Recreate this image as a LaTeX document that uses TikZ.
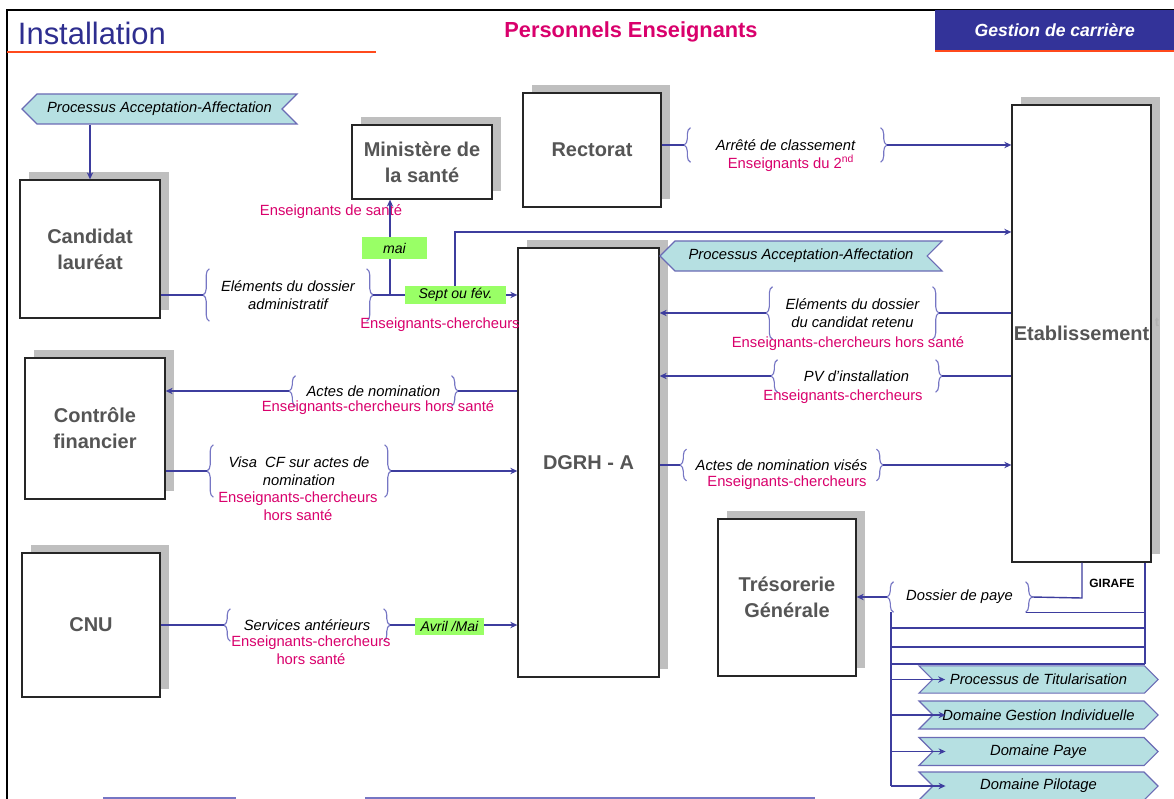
\documentclass[tikz,border=0pt]{standalone}
\usepackage{fontspec}
\setmainfont{Liberation Sans}
\usepackage{xcolor}
\usepackage{tikz}
\usetikzlibrary{arrows.meta,shapes.symbols,shadows,decorations.pathreplacing}
\definecolor{lnblue}{HTML}{3D3D9E}
\definecolor{brcblue}{HTML}{7676C4}
\definecolor{pink}{HTML}{D9006C}
\definecolor{taggreen}{HTML}{99FF66}
\definecolor{flagfill}{HTML}{B6E0E2}
\definecolor{flagdraw}{HTML}{6B6BB5}
\definecolor{titleblue}{HTML}{2E2E8F}
\definecolor{hdrblue}{HTML}{333399}
\definecolor{redline}{HTML}{FF4A1C}
\definecolor{unitgrey}{HTML}{555555}

\newcommand\bracepair[1]{%
  \draw[brc] ([xshift=4.5pt]#1.south west) -- ([xshift=4.5pt]#1.north west);
  \draw[brc] ([xshift=-4.5pt]#1.north east) -- ([xshift=-4.5pt]#1.south east);}

\begin{document}
\begin{tikzpicture}[x=0.025cm, y=-0.025cm,
  unit/.style={draw=black!85, line width=0.9pt, fill=white, text=unitgrey,
    inner xsep=0.5pt, align=center, font=\fontsize{14.2}{18.5}\selectfont\bfseries,
    general shadow={fill=black!25, shadow xshift=6.4pt, shadow yshift=5.7pt}},
  brk/.style={inner sep=0pt, outer xsep=4.5pt, align=center,
    font=\fontsize{10.5}{13}\selectfont\itshape},
  brc/.style={draw=brcblue, line width=0.8pt, decorate,
    decoration={brace, amplitude=4.5pt}},
  who/.style={text=pink, align=center, inner sep=0pt,
    font=\fontsize{10.5}{13}\selectfont},
  tag/.style={fill=taggreen, inner sep=0pt, font=\fontsize{10}{12}\selectfont\itshape},
  flag/.style={shape=signal, draw=flagdraw, fill=flagfill, line width=0.8pt,
    inner sep=0pt, minimum height=0.75cm, font=\fontsize{10.5}{12}\selectfont\itshape},
  ln/.style={draw=lnblue, line width=1pt},
  arr/.style={ln, -{Stealth[length=5pt, width=4.5pt]}}
]
  \useasboundingbox[fill=white] (0,0) rectangle (1174,799);

  % header
  \draw[line width=2pt] (7,799) |- (1174,10);
  \node[anchor=west, text=titleblue, font=\fontsize{22}{22}\selectfont] (ttl) at (13,33) {Installation};
  \draw[redline, line width=1.1pt] (7,52) -- (376,52);
  \node[text=pink, font=\fontsize{15.5}{15.5}\selectfont\bfseries] (sub) at (631,32) {Personnels Enseignants};
  \node[fill=hdrblue, anchor=north west, minimum width=5.975cm, minimum height=1cm,
    text=white, font=\fontsize{12.5}{12.5}\selectfont\bfseries\itshape] (hdr) at (935,10) {Gestion de carrière};
  \draw[redline, line width=1.4pt] (935,51) -- (1174,51);

  % actors
  \node[unit, minimum width=3.5cm,   minimum height=3.45cm]   (cand)  at (90,249)    {Candidat\\lauréat};
  \node[unit, minimum width=3.5cm,   minimum height=1.85cm]   (mins)  at (422,162)   {Ministère de\\la santé};
  \node[unit, minimum width=3.45cm,  minimum height=2.85cm]   (rect)  at (592,150)   {Rectorat};
  \node[unit, minimum width=3.475cm, minimum height=11.425cm] (etab)  at (1081.5,333.5) {Etablissement};
  \node[unit, minimum width=3.525cm, minimum height=10.725cm] (dgrh)  at (588.5,462.5)  {DGRH - A};
  \node[unit, minimum width=3.5cm,   minimum height=3.525cm]  (ctrl)  at (95,428.5)  {Contrôle\\financier};
  \node[unit, minimum width=3.45cm,  minimum height=3.6cm]    (cnu)   at (91,625)    {CNU};
  \node[unit, minimum width=3.45cm,  minimum height=3.925cm]  (treso) at (787,597.5) {Trésorerie\\Générale};
  \node[text=black!30, font=\fontsize{9}{9}\selectfont\bfseries] (tt) at (1157,322) {t};

  % processes
  \node[flag, signal to=west, signal from=east, minimum width=6.875cm] (pa1) at (159.5,109) {Processus Acceptation-Affectation};
  \node[flag, signal to=west, signal from=east, minimum width=7.05cm]  (pa2) at (801,256)   {Processus Acceptation-Affectation};
  \node[flag, signal to=east, signal from=west, minimum width=5.975cm, minimum height=0.68cm] (pt1) at (1038.5,679.5) {Processus de Titularisation};
  \node[flag, signal to=east, signal from=west, minimum width=5.975cm, minimum height=0.7cm]  (pt2) at (1038.5,715)   {Domaine Gestion Individuelle};
  \node[flag, signal to=east, signal from=west, minimum width=5.975cm, minimum height=0.7cm]  (pt3) at (1038.5,751.5) {Domaine Paye};
  \node[flag, signal to=east, signal from=west, minimum width=5.975cm, minimum height=0.7cm]  (pt4) at (1038.5,786)   {Domaine Pilotage};

  % documents
  \node[brk, minimum width=3.93cm, minimum height=1.3cm]  (b1) at (288,295)    {Eléments du dossier\\administratif};
  \node[brk, minimum width=4.75cm, minimum height=0.85cm] (b2) at (785.5,145)  {Arrêté de classement};
  \node[brk, minimum width=4cm,    minimum height=1.3cm]  (b3) at (852.5,313)  {Eléments du dossier\\du candidat retenu};
  \node[brk, minimum width=3.95cm, minimum height=0.8cm]  (b4) at (856.5,376)  {PV d'installation};
  \node[brk, minimum width=3.9cm,  minimum height=0.75cm] (b5) at (373.5,391)  {Actes de nomination};
  \node[brk, minimum width=4.28cm, minimum height=1.3cm]  (b6) at (299,471)    {Visa\ \ CF sur actes de\\nomination};
  \node[brk, minimum width=4.75cm, minimum height=0.78cm] (b7) at (781.5,465)  {Actes de nomination visés};
  \node[brk, minimum width=3.83cm, minimum height=0.8cm]  (b8) at (307,625)    {Services antérieurs};
  \node[brk, minimum width=3.3cm,  minimum height=0.75cm] (b9) at (959.5,597)  {Dossier de paye};
  \foreach \b in {b1,b2,b3,b4,b5,b6,b7,b8,b9} {\bracepair{\b}}

  \node[who] (m1) at (331,212) {Enseignants de santé};
  \node[who] (m2) at (440,325) {Enseignants-chercheurs};
  \node[who] (m3) at (791,163) {Enseignants du 2\textsuperscript{nd}};
  \node[who] (m4) at (848,344) {Enseignants-chercheurs hors santé};
  \node[who] (m5) at (843,397) {Enseignants-chercheurs};
  \node[who] (m6) at (378,408) {Enseignants-chercheurs hors santé};
  \node[who] (m7) at (298,506) {Enseignants-chercheurs\\hors santé};
  \node[who] (m8) at (787,483) {Enseignants-chercheurs};
  \node[who] (m9) at (311,650) {Enseignants-chercheurs\\hors santé};

  \coordinate (j1) at (390,295);
  \coordinate (j2) at (455,295);
  \coordinate (j3) at (455,232);
  \coordinate (g1) at (1082,598);
  \coordinate (g2) at (1145,664);
  \coordinate (bus) at (891,612);

  \draw[arr] (cand.north |- pa1.south) -- (cand.north);
  \draw[ln] (cand.east |- b1) -- (b1.west);
  \draw[ln] (b1.east) -- (j1);
  \draw[arr] (j1) -- (j1 |- mins.south);
  \draw[arr] (j1) -- (dgrh.west |- j1);
  \draw[arr] (j2) -- (j3) -- (etab.west |- j3);
  \draw[ln] (rect.east |- b2) -- (b2.west);
  \draw[arr] (b2.east) -- (etab.west |- b2);
  \draw[ln] (etab.west |- b3) -- (b3.east);
  \draw[arr] (b3.west) -- (dgrh.east |- b3);
  \draw[ln] (etab.west |- b4) -- (b4.east);
  \draw[arr] (b4.west) -- (dgrh.east |- b4);
  \draw[ln] (dgrh.west |- b5) -- (b5.east);
  \draw[arr] (b5.west) -- (ctrl.east |- b5);
  \draw[ln] (ctrl.east |- b6) -- (b6.west);
  \draw[arr] (b6.east) -- (dgrh.west |- b6);
  \draw[ln] (dgrh.east |- b7) -- (b7.west);
  \draw[arr] (b7.east) -- (etab.west |- b7);
  \draw[ln] (cnu.east |- b8) -- (b8.west);
  \draw[arr] (b8.east) -- (dgrh.west |- b8);

  \draw[ln] (etab.south -| g1) -- (g1) -- (b9.east);
  \draw[arr] (b9.west) -- (treso.east |- b9);
  \draw[ln] (etab.south -| g2) -- (g2);
  \draw[ln] ([xshift=-4.5pt]b9.south east) -- (g2 |- b9.south);
  \foreach \y in {628,647,664} \draw[ln] (bus |- 0,\y) -- (g2 |- 0,\y);
  \draw[ln] (bus) -- (bus |- pt4.west);
  \foreach \p in {pt1,pt2,pt3,pt4} \draw[arr] (bus |- \p.west) -- ([xshift=9.5pt]\p.west);
  \node[font=\fontsize{8.5}{8.5}\selectfont\bfseries] (gir) at (1112,583) {GIRAFE};

  \node[tag, minimum width=1.63cm, minimum height=0.55cm] (t1) at (394.5,248) {mai};
  \node[tag, minimum width=2.5cm,  minimum height=0.45cm] (t2) at (455.5,295) {Sept ou fév.};
  \node[tag, minimum width=1.72cm, minimum height=0.43cm] (t3) at (449.5,626.5) {Avril /Mai};

  \draw[brcblue, line width=1.2pt] (103,798) -- (236,798);
  \draw[brcblue, line width=1.2pt] (365,798) -- (815,798);
\end{tikzpicture}
\end{document}
